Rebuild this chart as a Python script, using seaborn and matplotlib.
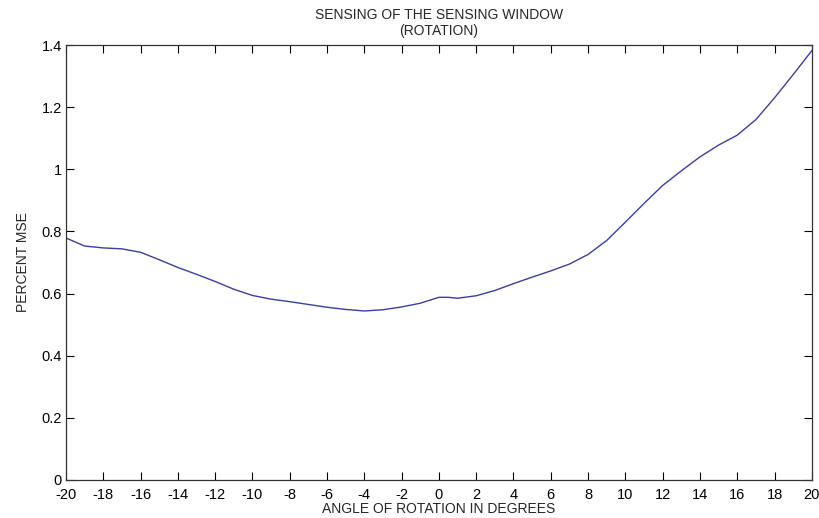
import numpy as np
import pandas as pd
import seaborn as sns
import matplotlib
matplotlib.use('Agg')
import matplotlib.pyplot as plt

# valores
angle = [-20, -19, -18, -17, -16, -15, -14, -13, -12, -11, -10, -9, -8, -7, -6,
         -5, -4, -3, -2, -1, 0, 0.5, 1, 2, 3, 4, 5, 6, 7, 8, 9, 10, 11, 12, 13,
         14, 15, 16, 17, 18, 19, 20]
mse = [0.779, 0.753, 0.747, 0.744, 0.733, 0.709, 0.684, 0.662, 0.639, 0.614,
       0.594, 0.582, 0.574, 0.565, 0.556, 0.549, 0.544, 0.548, 0.557, 0.569,
       0.588, 0.588, 0.585, 0.593, 0.610, 0.632, 0.653, 0.673, 0.695, 0.726,
       0.771, 0.830, 0.890, 0.948, 0.995, 1.040, 1.078, 1.110, 1.160, 1.230,
       1.305, 1.382]
xticks = list(range(-20, 21, 2))
yticks = [0, 0.2, 0.4, 0.6, 0.8, 1.0, 1.2, 1.4]
yticklabels = ['0', '0.2', '0.4', '0.6', '0.8', '1', '1.2', '1.4']

df = pd.DataFrame({'angle': angle, 'mse': mse})

sns.set_style('ticks')
plt.rcParams['font.family'] = ['Liberation Sans', 'DejaVu Sans']
plt.rcParams['axes.unicode_minus'] = False

fig = plt.figure(figsize=(8.2, 5.18), dpi=100)
ax = fig.add_axes([0.0805, 0.0734, 0.9095, 0.8396])

sns.lineplot(data=df, x='angle', y='mse', ax=ax, color='#3c3ca8', linewidth=1.0)

ax.set_xlim(-20, 20)
ax.set_ylim(0, 1.4)
ax.set_xticks(xticks)
ax.set_yticks(yticks)
ax.set_yticklabels(yticklabels)
ax.tick_params(direction='in', top=True, right=True, length=6, width=0.8,
               labelsize=10.5, colors='black')
ax.tick_params(axis='x', pad=6)
ax.tick_params(axis='y', pad=3)
for s in ax.spines.values():
    s.set_visible(True)
    s.set_linewidth(0.9)
    s.set_color('#333333')

ax.set_title('SENSING OF THE SENSING WINDOW\n(ROTATION)', fontsize=10, pad=7,
             linespacing=1.2)
ax.set_xlabel('ANGLE OF ROTATION IN DEGREES', fontsize=10, labelpad=0)
ax.set_ylabel('PERCENT MSE', fontsize=10, labelpad=8)

fig.savefig('out.png', dpi=100)
